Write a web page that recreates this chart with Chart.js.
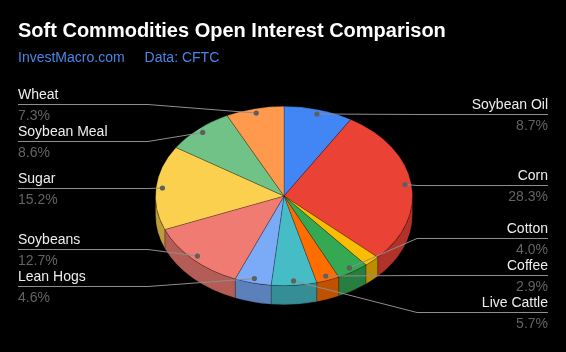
<!DOCTYPE html>
<html lang="en">
<head>
  <meta charset="utf-8" />
  <title>Soft Commodities Open Interest Comparison</title>
  <script src="https://cdn.jsdelivr.net/npm/chart.js@4.4.4/dist/chart.umd.min.js"></script>
  <style>
    html, body { margin: 0; padding: 0; background: #000; }
    #wrap { position: relative; width: 566px; height: 352px; }
  </style>
</head>
<body>
  <div id="wrap"><canvas id="stage"></canvas></div>

  <script>
    const chartTitle = 'Soft Commodities Open Interest Comparison';
    const subTitles = ['InvestMacro.com', 'Data: CFTC'];

    // slices, clockwise from 12 o'clock
    const categories = ['Soybean Oil', 'Corn', 'Cocoa', 'Cotton', 'Coffee', 'Live Cattle',
                        'Lean Hogs', 'Soybeans', 'Sugar', 'Soybean Meal', 'Wheat'];
    const shares = [8.7, 28.3, 2.0, 4.0, 2.9, 5.7, 4.6, 12.7, 15.2, 8.6, 7.3];
    const sliceColors = ['#4285f4', '#ea4335', '#fbbc04', '#34a853', '#ff6d01', '#46bdc6',
                         '#7baaf7', '#f07b72', '#fcd04f', '#71c287', '#ff994d'];

    const FONT = '"Liberation Sans", Arial, sans-serif';
    const TILT = 90 / 129;   // vertical squash of the pie
    const DEPTH = 19;        // height of the side wall
    const LABEL_GAP = 37;    // min distance between two label lines
    const MIN_LABEL = 2.5;   // smaller slices get no label

    function shade(hex, f) {
      const n = parseInt(hex.slice(1), 16);
      const r = Math.round(((n >> 16) & 255) * f);
      const g = Math.round(((n >> 8) & 255) * f);
      const b = Math.round((n & 255) * f);
      return `rgb(${r}, ${g}, ${b})`;
    }

    // push labels apart, keeping each group centred on its dots
    function spread(items) {
      items.sort((a, b) => a.dotY - b.dotY);
      const groups = items.map(it => ({ items: [it], sum: it.dotY }));
      let merged = true;
      while (merged) {
        merged = false;
        groups.forEach(g => {
          const n = g.items.length;
          g.top = g.sum / n - (n - 1) * LABEL_GAP / 2;
          g.bottom = g.top + (n - 1) * LABEL_GAP;
        });
        for (let i = 0; i < groups.length - 1; i++) {
          if (groups[i + 1].top - groups[i].bottom < LABEL_GAP) {
            groups[i].items = groups[i].items.concat(groups[i + 1].items);
            groups[i].sum += groups[i + 1].sum;
            groups.splice(i + 1, 1);
            merged = true;
            break;
          }
        }
      }
      groups.forEach(g => g.items.forEach((it, j) => { it.lineY = g.top + j * LABEL_GAP; }));
    }

    const pie3d = {
      id: 'pie3d',
      beforeDatasetsDraw(chart) {
        const ctx = chart.ctx;
        const arcs = chart.getDatasetMeta(0).data;
        ctx.save();
        arcs.forEach((arc, i) => {
          const a1 = Math.max(arc.startAngle, 0);
          const a2 = Math.min(arc.endAngle, Math.PI);
          if (a2 <= a1) return;
          const r = arc.outerRadius, cx = arc.x, cy = arc.y;
          ctx.beginPath();
          ctx.ellipse(cx, cy, r, r * TILT, 0, a1, a2);
          ctx.lineTo(cx + r * Math.cos(a2), cy + r * TILT * Math.sin(a2) + DEPTH);
          ctx.ellipse(cx, cy + DEPTH, r, r * TILT, 0, a2, a1, true);
          ctx.closePath();
          ctx.fillStyle = shade(sliceColors[i], 0.75);
          ctx.fill();
          ctx.strokeStyle = 'rgba(0, 0, 0, 0.25)';
          ctx.lineWidth = 0.8;
          ctx.stroke();
        });
        ctx.restore();

        const a = arcs[0];
        ctx.save();
        ctx.translate(a.x, a.y);
        ctx.scale(1, TILT);
        ctx.translate(-a.x, -a.y);
      },
      afterDatasetsDraw(chart) {
        chart.ctx.restore();
      },
      afterDraw(chart) {
        const ctx = chart.ctx;
        const arcs = chart.getDatasetMeta(0).data;

        // title block
        ctx.save();
        ctx.textBaseline = 'alphabetic';
        ctx.textAlign = 'left';
        ctx.fillStyle = '#ffffff';
        ctx.font = 'bold 20px ' + FONT;
        ctx.fillText(chartTitle, 18, 37);
        ctx.fillStyle = '#4a86e8';
        ctx.font = '14px ' + FONT;
        ctx.fillText(subTitles[0], 18, 62);
        ctx.fillText(subTitles[1], 18 + ctx.measureText(subTitles[0]).width + 20, 62);

        // leader lines + labels
        const left = [], right = [];
        arcs.forEach((arc, i) => {
          if (shares[i] < MIN_LABEL) return;
          const mid = (arc.startAngle + arc.endAngle) / 2;
          const r = arc.outerRadius * 0.95;
          const item = {
            i: i,
            dotX: arc.x + r * Math.cos(mid),
            dotY: arc.y + r * TILT * Math.sin(mid)
          };
          (Math.cos(mid) >= 0 ? right : left).push(item);
        });
        spread(left);
        spread(right);

        const drawLabel = (it, isRight) => {
          const y = Math.round(it.lineY) + 0.5;
          const edgeX = isRight ? 548 : 18;
          const elbowX = isRight ? 417 : 148;
          ctx.strokeStyle = '#8e8e8e';
          ctx.lineWidth = 1;
          ctx.beginPath();
          ctx.moveTo(edgeX, y);
          ctx.lineTo(elbowX, y);
          ctx.lineTo(it.dotX, it.dotY);
          ctx.stroke();
          ctx.fillStyle = '#5f5f5f';
          ctx.beginPath();
          ctx.arc(it.dotX, it.dotY, 2.6, 0, Math.PI * 2);
          ctx.fill();

          ctx.textAlign = isRight ? 'right' : 'left';
          ctx.font = '14px ' + FONT;
          ctx.fillStyle = '#eeeeee';
          ctx.fillText(categories[it.i], edgeX, y - 6);
          ctx.fillStyle = '#636363';
          ctx.fillText(shares[it.i].toFixed(1) + '%', edgeX, y + 15);
        };
        left.forEach(it => drawLabel(it, false));
        right.forEach(it => drawLabel(it, true));
        ctx.restore();
      }
    };

    new Chart(document.getElementById('stage'), {
      type: 'pie',
      data: {
        labels: categories,
        datasets: [{
          data: shares,
          backgroundColor: sliceColors,
          borderColor: 'rgba(0, 0, 0, 0.28)',
          borderWidth: 1
        }]
      },
      options: {
        responsive: true,
        maintainAspectRatio: false,
        animation: false,
        events: [],
        layout: { padding: { top: 67, bottom: 27, left: 100, right: 98 } },
        plugins: {
          legend: { display: false },
          tooltip: { enabled: false },
          title: { display: false }
        }
      },
      plugins: [pie3d]
    });
  </script>
</body>
</html>
